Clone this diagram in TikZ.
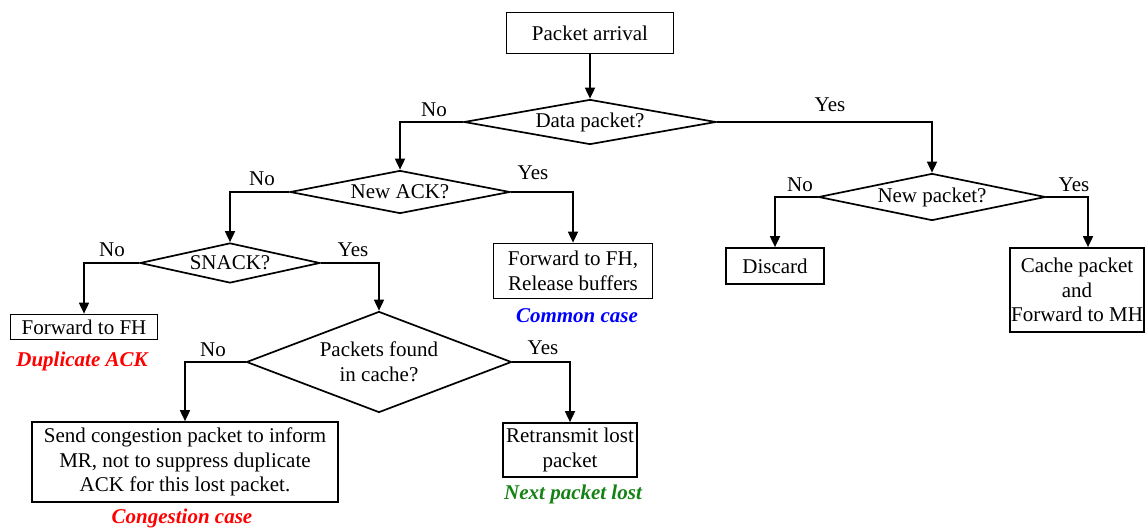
\documentclass[tikz,border=0pt]{standalone}
\usepackage{fontspec}
\setmainfont{Liberation Serif}
\usetikzlibrary{shapes.geometric,arrows.meta}
\definecolor{capred}{RGB}{255,0,0}
\definecolor{capblue}{RGB}{0,0,255}
\definecolor{capgreen}{RGB}{20,130,20}
\begin{document}
\begin{tikzpicture}[x=1pt,y=-1pt,
  every node/.style={font=\fontsize{21}{24.5}\selectfont},
  box/.style={draw,line width=1.7pt,align=center,inner sep=0pt},
  decision/.style={draw,line width=1.7pt,diamond,inner sep=0pt,align=center},
  flow/.style={line width=1.7pt,-{Triangle[length=11pt,width=10pt]}},
  caption/.style={font=\fontsize{21}{24.5}\selectfont\bfseries\itshape}]
\useasboundingbox (0,0) rectangle (1145,529);

% process boxes
\node[box,minimum width=167pt,minimum height=41pt] (pa) at (590,33) {Packet arrival};
\node[box,minimum width=147pt,minimum height=25pt] (fwd1) at (84,327) {Forward to FH};
\node[box,minimum width=159pt,minimum height=55pt] (fwdrel) at (573,271) {Forward to FH,\\Release buffers};
\node[box,minimum width=98pt,minimum height=36pt] (discard) at (775,266) {Discard};
\node[box,minimum width=134pt,minimum height=84pt] (cache) at (1077,290) {Cache packet\\and\\Forward to MH};
\node[box,minimum width=306pt,minimum height=80pt] (cong) at (185,462) {Send congestion packet to inform\\MR, not to suppress duplicate\\ACK for this lost packet.};
\node[box,minimum width=134pt,minimum height=54pt] (retx) at (570,450) {Retransmit lost\\packet};

% decisions
\node[decision,minimum width=252pt,minimum height=45pt,shape aspect=5.6] (dp) at (590,122) {Data packet?};
\node[decision,minimum width=220pt,minimum height=43pt,shape aspect=5.1] (ack) at (400,192) {New ACK?};
\node[decision,minimum width=180pt,minimum height=40pt,shape aspect=4.5] (snack) at (230,263) {SNACK?};
\node[decision,minimum width=265pt,minimum height=101pt,shape aspect=2.62] (pfc) at (379,362) {Packets found\\in cache?};
\node[decision,minimum width=227pt,minimum height=47pt,shape aspect=4.83] (np) at (932,197) {New packet?};

% connectors
\draw[flow] (pa) -- (dp);
\draw[flow] (dp.west) -| (ack.north);
\draw[flow] (dp.east) -| (np.north);
\draw[flow] (ack.west) -| (snack.north);
\draw[flow] (ack.east) -| (fwdrel.north);
\draw[flow] (snack.west) -| (fwd1.north);
\draw[flow] (snack.east) -| (pfc.north);
\draw[flow] (pfc.west) -| (cong.north);
\draw[flow] (pfc.east) -| (retx.north);
\draw[flow] (np.west) -| (discard.north);
\draw[flow] (np.east) -| ([xshift=11pt]cache.north);

% branch labels
\node (l1) at (434,110) {No};
\node (l2) at (830,105) {Yes};
\node (l3) at (262,179) {No};
\node (l4) at (533,173) {Yes};
\node (l5) at (112,250) {No};
\node (l6) at (353,250) {Yes};
\node (l7) at (213,350) {No};
\node (l8) at (543,348) {Yes};
\node (l9) at (800,185) {No};
\node (l10) at (1074,185) {Yes};

% case captions
\node[caption,text=capred] (c1) at (82,361) {Duplicate ACK};
\node[caption,text=capblue] (c2) at (577,316) {Common case};
\node[caption,text=capred] (c3) at (182,518) {Congestion case};
\node[caption,text=capgreen] (c4) at (573,494) {Next packet lost};
\end{tikzpicture}
\end{document}
